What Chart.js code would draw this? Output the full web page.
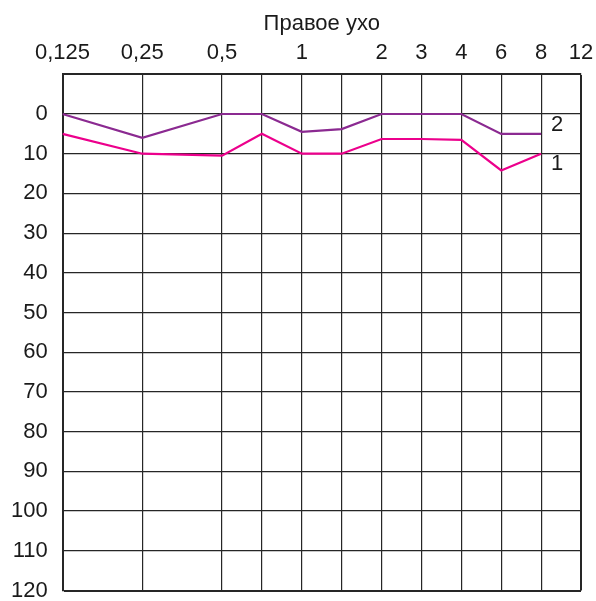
<!DOCTYPE html>
<html>
<head>
<meta charset="utf-8">
<script src="https://cdn.jsdelivr.net/npm/chart.js@4/dist/chart.umd.min.js"></script>
<style>
  html, body { margin: 0; padding: 0; background: #fff; }
  #wrap { width: 596px; height: 601px; position: relative; }
</style>
</head>
<body>
<div id="wrap"><canvas id="c"></canvas></div>
<script>
// Frequencies (kHz) and their tick labels along the top axis
const freqs = [0.125, 0.25, 0.5, 0.75, 1, 1.5, 2, 3, 4, 6, 8, 12];
const freqLabels = ['0,125', '0,25', '0,5', '', '1', '', '2', '3', '4', '6', '8', '12'];
// Grid step of each frequency on the audiogram form (half-octave steps above 0.5 kHz)
const freqSteps = [0, 2, 4, 5, 6, 7, 8, 9, 10, 11, 12, 13];
// Hearing level ticks (dB)
const dbTicks = [0, 10, 20, 30, 40, 50, 60, 70, 80, 90, 100, 110, 120];
// Series values (dB) at 0.125 ... 8 kHz
const series1 = [5, 10, 10.5, 5, 10, 10, 6.3, 6.3, 6.5, 14.2, 10];
const series2 = [0, 6, 0, 0, 4.5, 3.8, 0, 0, 0, 5, 5];
const seriesNames = ['1', '2'];
const title = 'Правое ухо';

const FONT = 'Liberation Sans, Arial, Helvetica, sans-serif';
const GRID = '#262626';

function toPoints(vals) {
  return vals.map((v, i) => ({ x: freqSteps[i], y: v }));
}

function noPad(scale) {
  scale.paddingLeft = 0;
  scale.paddingRight = 0;
  scale.paddingTop = 0;
  scale.paddingBottom = 0;
}

const seriesLabelPlugin = {
  id: 'seriesLabels',
  afterDatasetsDraw(chart) {
    const { ctx, scales: { x, y } } = chart;
    const items = [
      { text: seriesNames[0], at: 12.4, v: 12.5 },
      { text: seriesNames[1], at: 12.4, v: 2.7 }
    ];
    ctx.save();
    ctx.font = '22px ' + FONT;
    ctx.fillStyle = '#1a1a1a';
    ctx.textAlign = 'center';
    ctx.textBaseline = 'middle';
    items.forEach(it => ctx.fillText(it.text, x.getPixelForValue(it.at), y.getPixelForValue(it.v)));
    ctx.restore();
  }
};

new Chart(document.getElementById('c'), {
  type: 'line',
  data: {
    datasets: [
      {
        label: seriesNames[0],
        data: toPoints(series1),
        borderColor: '#ec008c',
        borderWidth: 2.2,
        pointRadius: 0,
        tension: 0,
        fill: false
      },
      {
        label: seriesNames[1],
        data: toPoints(series2),
        borderColor: '#8b2a91',
        borderWidth: 2.2,
        pointRadius: 0,
        tension: 0,
        fill: false
      }
    ]
  },
  options: {
    responsive: true,
    maintainAspectRatio: false,
    animation: false,
    devicePixelRatio: 1,
    layout: { padding: { left: 0, top: 0, right: 15, bottom: 10.5 } },
    plugins: {
      legend: { display: false },
      tooltip: { enabled: false }
    },
    scales: {
      x: {
        type: 'linear',
        position: 'top',
        min: freqSteps[0],
        max: freqSteps[freqSteps.length - 1],
        afterBuildTicks(scale) {
          scale.ticks = freqSteps.map(v => ({ value: v }));
        },
        afterFit(scale) { scale.height = 74.3; noPad(scale); },
        ticks: {
          autoSkip: false,
          maxRotation: 0,
          padding: 8,
          color: '#1a1a1a',
          font: { family: FONT, size: 22, lineHeight: 1.2 },
          callback(value) {
            const i = freqSteps.indexOf(value);
            return i >= 0 ? freqLabels[i] : '';
          }
        },
        grid: {
          drawTicks: false,
          color: GRID,
          lineWidth(ctx) {
            return ctx.tick && ctx.tick.value === freqSteps[freqSteps.length - 1] ? 2 : 1.2;
          }
        },
        border: { display: true, color: GRID, width: 2 },
        title: {
          display: true,
          text: title,
          color: '#1a1a1a',
          font: { family: FONT, size: 22, lineHeight: 1.2 },
          padding: { top: 11, bottom: 0 }
        }
      },
      y: {
        type: 'linear',
        reverse: true,
        min: -10,
        max: 120,
        afterBuildTicks(scale) {
          scale.ticks = dbTicks.map(v => ({ value: v }));
        },
        afterFit(scale) { scale.width = 62.5; noPad(scale); },
        ticks: {
          padding: 14.8,
          color: '#1a1a1a',
          font: { family: FONT, size: 22, lineHeight: 1.0 },
          callback(value) { return String(value); }
        },
        grid: {
          drawTicks: false,
          color: GRID,
          lineWidth(ctx) {
            return ctx.tick && ctx.tick.value === dbTicks[dbTicks.length - 1] ? 2 : 1.2;
          }
        },
        border: { display: true, color: GRID, width: 2 }
      }
    }
  },
  plugins: [seriesLabelPlugin]
});
</script>
</body>
</html>
